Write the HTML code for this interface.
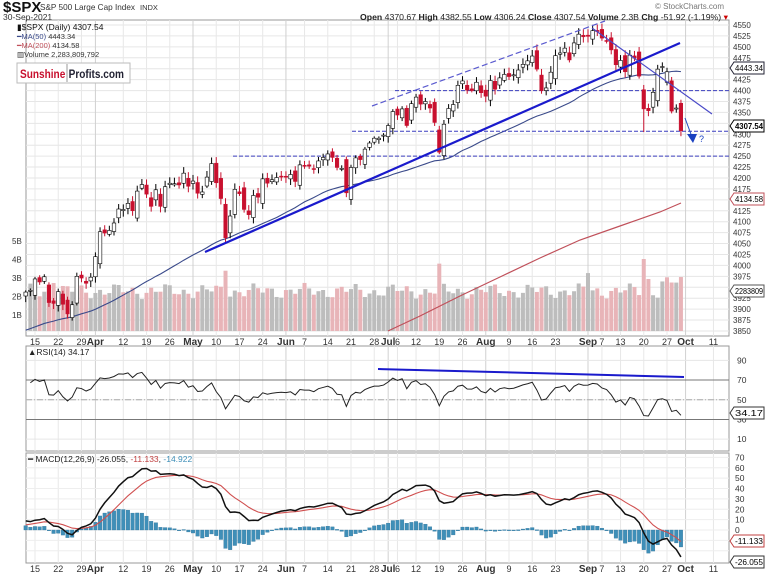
<!DOCTYPE html>
<html><head><meta charset="utf-8"><style>
body{margin:0;background:#fff;}
svg{display:block;font-family:"Liberation Sans",sans-serif;}
</style></head><body>
<svg id="c" width="765" height="575" viewBox="0 0 765 575" xmlns="http://www.w3.org/2000/svg"></svg>
<script>
var C=[3939,3943,3969,3962,3974,3915,3913,3940,3911,3889,3910,3975,3971,3959,3973,
4020,4077,4074,4080,4097,4129,4128,4142,4125,4170,4185,4163,4135,4173,4135,4180,4188,4187,4184,4211,4181,
4193,4165,4168,4202,4233,4189,4153,4063,4113,4174,4164,4128,4116,4160,4156,4198,4188,4196,4201,4204,
4202,4208,4192,4230,4227,4227,4220,4239,4247,4255,4247,4224,4222,4166,4224,4246,4242,4266,4280,4291,4291,4298,
4320,4352,4344,4358,4320,4370,4385,4369,4375,4360,4327,4259,4323,4359,4368,4412,4422,4401,4400,4419,4395,
4387,4423,4403,4429,4437,4432,4436,4447,4460,4468,4479,4449,4400,4406,4442,4480,4486,4497,4470,4509,4529,4523,
4524,4537,4535,4520,4514,4493,4459,4469,4443,4481,4474,4433,4358,4354,4396,4449,4455,4443,4353,4360,4308];
var s='';
function X(i){return 35+(i-2)*4.647;}
function Y(p){return 25+(4550-p)*0.4371;}
function L(x1,y1,x2,y2,st){s+='<line x1="'+x1+'" y1="'+y1+'" x2="'+x2+'" y2="'+y2+'" style="'+st+'"/>';}
function T(x,y,t,st,tl){s+='<text x="'+x+'" y="'+y+'" style="'+st+'"'+(tl?' textLength="'+tl+'" lengthAdjust="spacingAndGlyphs"':'')+'>'+t+'</text>';}
function R(x,y,w,h,st){s+='<rect x="'+x+'" y="'+y+'" width="'+w+'" height="'+h+'" style="'+st+'"/>';}
function P(pts,st){s+='<polyline points="'+pts+'" style="fill:none;'+st+'"/>';}
var right=729;
R(26,20,right-26,316,'fill:#fff;stroke:#999;stroke-width:1');
R(26,346,right-26,105,'fill:#fff;stroke:#999;stroke-width:1');
R(26,453,right-26,110,'fill:#fff;stroke:#999;stroke-width:1');
for(var p=3850;p<=4550;p+=25){var y=Y(p);L(26,y,right,y,'stroke:#e6e6e6');T(733,y+3,p,'font-size:8px;fill:#333');}
var W=[['15',2],['22',7],['29',12],['Apr',15,1],['12',21],['19',26],['26',31],['May',36,1],['10',41],['17',46],['24',51],['Jun',56,1],['7',60],['14',65],['21',70],['28',75],['Jul',78,1],['6',80],['12',84],['19',89],['26',94],['Aug',99,1],['9',104],['16',109],['23',114],['Sep',121,1],['7',124],['13',128],['20',133],['27',138],['Oct',142,1],['11',148]];
W.forEach(function(w){var x=X(w[1]);[[20,336],[346,451],[453,563]].forEach(function(r){L(x,r[0],x,r[1],'stroke:'+(w[2]?'#d0d0d0':'#e8e8e8'));});
 var st='font-size:'+(w[2]?'10px;font-weight:bold':'9px')+';fill:#333;text-anchor:middle';T(x,345,w[0],st);T(x,572,w[0],st);});
function RY(v){return 449-v*0.985;}
[90,70,50,30,10].forEach(function(v){var y=RY(v);L(26,y,right,y,'stroke:#e6e6e6');T(737,y+3,v,'font-size:8.5px;fill:#333');});
L(26,RY(70),right,RY(70),'stroke:#777');L(26,RY(30),right,RY(30),'stroke:#777');L(26,RY(50),right,RY(50),'stroke:#aaa;stroke-dasharray:6,2,1,2');
function MY(v){return 530-v*1.037;}
for(var v=-20;v<=70;v+=10){var y=MY(v);L(26,y,right,y,'stroke:#eee');if(v>=0)T(735,y+3,v,'font-size:8.5px;fill:#333');}
['1B','2B','3B','4B','5B'].forEach(function(t,k){T(12,318-k*18.5,t,'font-size:8px;fill:#333');});
for(var i=1;i<C.length;i++){var h=(Math.sin(i*1.7)*0.5+Math.cos(i*0.63)*0.4)*9+40;if(i>136)h+=8;if(i==133)h=72;if(i==134)h=52;if(i==121)h+=20;if(i==89)h+=22;if(i==43)h+=25;if(i==6)h+=14;
 var up=C[i]>=C[i-1];R(X(i)-2,331-h,4,h,'fill:'+(up?'#bdbdbd':'#e8b4b8'));}
P([[388,331],[420,316],[460,296],[500,277],[540,258],[580,240],[620,226],[660,212],[681,203]].join(' '),'stroke:#c0505a;stroke-width:1.2');
var m50=[];for(var i=0;i<C.length;i++){var sum=0;for(var k=0;k<50;k++){var j=i-k;sum+=j>=0?C[j]:3760+ (j+50)*3.6;}m50.push([X(i),Y(sum/50)]);}
P(m50.join(' '),'stroke:#3a4a8a;stroke-width:1.1');
L(395,Y(4400),right,Y(4400),'stroke:#3b3fbf;stroke-dasharray:4,2');
L(352,Y(4307),right,Y(4307),'stroke:#3b3fbf;stroke-dasharray:4,2');
L(233,Y(4250),right,Y(4250),'stroke:#3b3fbf;stroke-dasharray:4,2');
for(var i=0;i<C.length;i++){var c=C[i],pc=i?C[i-1]:3930;var o=pc+(Math.sin(i*2.3)*0.6)*(Math.abs(c-pc)*0.5+6);
 if(i==133)o=4402;if(i==138)o=4419;if(i==141)o=4371;if(i==43)o=4140;if(i==89)o=4310;
 var hi=Math.max(o,c)+4+Math.abs(Math.sin(i*3.1))*10,lo=Math.min(o,c)-4-Math.abs(Math.cos(i*2.7))*10;if(i==133)lo=4305;
 var x=X(i);L(x,Y(hi),x,Y(lo),'stroke:'+(c<o?'#c8102e':'#000'));
 var t=Y(Math.max(o,c)),b=Y(Math.min(o,c));if(b-t<1)b=t+1;
 if(c<o)R(x-1.8,t,3.6,b-t,'fill:#c8102e;stroke:#c8102e;stroke-width:0.5');else R(x-1.8,t,3.6,b-t,'fill:#fff;stroke:#000;stroke-width:0.6');}
L(372,106,605,21,'stroke:#5a5acf;stroke-width:1.2;stroke-dasharray:6,3');
L(205,252,680,43,'stroke:#1a1acc;stroke-width:2.2');
L(592,28,712,114,'stroke:#4a4ac8;stroke-width:1.2');
L(685,118,692,137,'stroke:#2050c0;stroke-width:1');
s+='<polygon points="687,134 697,134 693,143" style="fill:#1a40c0"/>';T(699,142,'?','font-size:9px;fill:#1a40c0');
var ag=12,al=6,rs=[];for(var i=1;i<C.length;i++){var d=C[i]-C[i-1];ag=(ag*13+Math.max(d,0))/14;al=(al*13+Math.max(-d,0))/14;rs.push([X(i),RY(100-100/(1+ag/al))]);}
P(rs.join(' '),'stroke:#222;stroke-width:1');
L(378,369,684,377,'stroke:#1a1acc;stroke-width:2');
var e12=C[0]+6,e26=C[0]-4,sig=4,mp=[],sp=[];
for(var i=0;i<C.length;i++){e12+=(C[i]-e12)*2/13;e26+=(C[i]-e26)*2/27;var m=e12-e26;sig+=(m-sig)*0.2;var h=m-sig;
 var x=X(i),y0=MY(0),y1=MY(h*1.1);R(x-1.8,Math.min(y0,y1),3.6,Math.max(0.8,Math.abs(y1-y0)),'fill:#3f8fb8;stroke:#2c6f96;stroke-width:0.3');
 mp.push([x,MY(m)]);sp.push([x,MY(sig)]);}
P(sp.join(' '),'stroke:#d05050;stroke-width:1.1');
P(mp.join(' '),'stroke:#111;stroke-width:1.5');
function B(y,t,col,bold){s+='<path d="M730 '+y+' l4 -6 h30 v12 h-30 z" style="fill:#fff;stroke:'+col+';stroke-width:1"/>';T(735,y+3,t,'font-size:8px;fill:#000'+(bold?';font-weight:bold':''),28);}
B(68,'4443.34','#223');B(126,'4307.54','#000',1);B(199,'4134.58','#c0505a');B(291,'2283809','#555');
B(413,'34.17','#333');B(541,'-11.133','#c04040');B(562,'-26.055','#333');
T(3,12,'$SPX','font-size:15px;font-weight:bold;fill:#111');T(40,10,'S&amp;P 500 Large Cap Index','font-size:8.5px;fill:#333',95);T(140,10,'INDX','font-size:7.5px;fill:#333');
T(3,20,'30-Sep-2021','font-size:8.5px;fill:#333');
T(655,9,'© StockCharts.com','font-size:8px;fill:#777');
T(360,20,'<tspan style="font-weight:bold">Open</tspan> 4370.67 <tspan style="font-weight:bold">High</tspan> 4382.55 <tspan style="font-weight:bold">Low</tspan> 4306.24 <tspan style="font-weight:bold">Close</tspan> 4307.54 <tspan style="font-weight:bold">Volume</tspan> 2.3B <tspan style="font-weight:bold">Chg</tspan> -51.92 (-1.19%) <tspan style="fill:#c00">▾</tspan>','font-size:8.5px;fill:#222',368);
T(17,30,'▮$SPX (Daily) 4307.54','font-size:8.5px;fill:#111');
T(17,39,'<tspan style="fill:#3a4a8a">━MA(50)</tspan> 4443.34','font-size:7.5px;fill:#333');
T(17,48,'<tspan style="fill:#c0505a">━MA(200)</tspan> 4134.58','font-size:7.5px;fill:#333');
T(17,57,'▥Volume 2,283,809,792','font-size:7.5px;fill:#333');
R(17,63,113,20,'fill:#fff;stroke:#bbb;stroke-width:1');
T(20,78,'<tspan style="fill:#c8102e">Sunshine</tspan><tspan style="fill:#223" dx="4">Profits.com</tspan>','font-size:12px;font-weight:bold',104);
L(67,64,67,82,'stroke:#999');
T(28,355,'▲RSI(14) 34.17','font-size:8.5px;fill:#222');
T(28,462,'━ MACD(12,26,9) -26.055, <tspan style="fill:#c04040">-11.133</tspan>, <tspan style="fill:#3f8fb8">-14.922</tspan>','font-size:8.5px;fill:#222');
document.getElementById('c').innerHTML=s;
</script>
</body></html>
